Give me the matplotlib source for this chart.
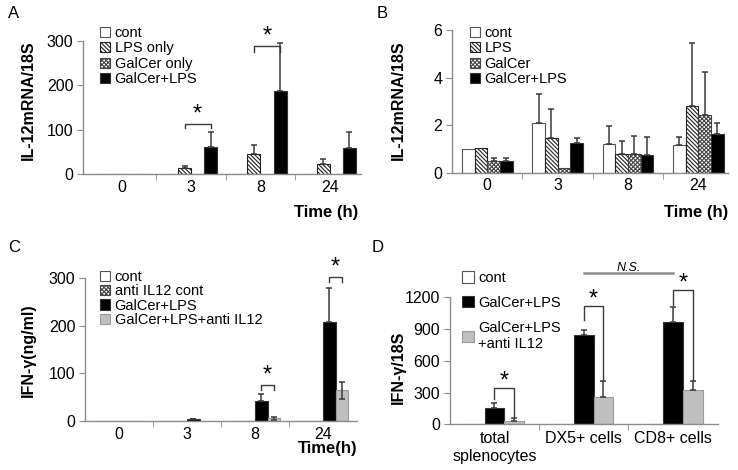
import numpy as np
import matplotlib
matplotlib.use("Agg")
import matplotlib.pyplot as plt
from matplotlib.patches import Patch

plt.rcParams['font.family'] = ['Liberation Sans', 'DejaVu Sans']
plt.rcParams['hatch.linewidth'] = 0.8

# ---- data ----
times = ['0', '3', '8', '24']

# A : IL-12 mRNA
a_names = ['cont', 'LPS only', 'GalCer only', 'GalCer+LPS']
a_cont = [1.5, 1.0, 0.3, 0.3]
a_lps = [0.5, 13.5, 45, 23]
a_galcer = [0.8, 0.5, 0.5, 0.5]
a_both = [1.5, 62, 187, 60]
a_lps_err = [0, 5, 21, 11]
a_both_err = [0, 32, 107, 34]

# B : IL-12 mRNA
b_names = ['cont', 'LPS', 'GalCer', 'GalCer+LPS']
b_cont = [0.98, 2.07, 1.19, 1.15]
b_lps = [1.02, 1.46, 0.77, 2.80]
b_galcer = [0.50, 0.21, 0.79, 2.41]
b_both = [0.48, 1.26, 0.74, 1.61]
b_cont_err = [0, 1.22, 0.77, 0.34]
b_lps_err = [0, 1.20, 0.55, 2.64]
b_galcer_err = [0.10, 0, 0.75, 1.84]
b_both_err = [0.12, 0.18, 0.77, 0.49]

# C : IFN-g protein
c_names = ['cont', 'anti IL12 cont', 'GalCer+LPS', 'GalCer+LPS+anti IL12']
c_cont = [1, 0, 1, 0]
c_anti_cont = [0, 0, 0, 1]
c_both = [1, 4.2, 42.8, 209]
c_both_anti = [1, 1, 5.6, 65]
c_both_err = [0, 1, 14, 70]
c_both_anti_err = [0, 0, 3, 18]

# D : IFN-g mRNA in cell subsets
d_groups = ['total\nsplenocytes', 'DX5+ cells', 'CD8+ cells']
d_names = ['cont', 'GalCer+LPS', 'GalCer+LPS\n+anti IL12']
d_cont = [5, 5, 5]
d_both = [151, 844, 970]
d_anti = [35, 261, 324]
d_both_err = [47, 47, 142]
d_anti_err = [28, 148, 85]

W, H = 738, 470
fig = plt.figure(figsize=(W / 100, H / 100), dpi=100)


def px_axes(left, right, bottom, top):
    return fig.add_axes([left / W, 1 - bottom / H, (right - left) / W, (bottom - top) / H])


AXC = '#8c8c8c'
ERRC = '#3a3a3a'

STY = {
    'white': dict(color='white', edgecolor='#555555', linewidth=0.8),
    'stripe': dict(color='white', edgecolor='#222222', hatch='\\' * 8, linewidth=0.8),
    'check': dict(color='white', edgecolor='#444444', hatch='x' * 8, linewidth=0.8),
    'black': dict(color='black', edgecolor='#333333', linewidth=0.8),
    'gray': dict(color='#c0c0c0', edgecolor='#9a9a9a', linewidth=0.8),
}


def style_axes(ax, ncat, xlim, ylim, yticks, labels):
    for s in ['top', 'right']:
        ax.spines[s].set_visible(False)
    for s in ['left', 'bottom']:
        ax.spines[s].set_color(AXC)
        ax.spines[s].set_linewidth(1.0)
    ax.set_xlim(*xlim)
    ax.set_ylim(*ylim)
    ax.set_yticks(yticks)
    ax.tick_params(axis='y', length=4, color=AXC, labelsize=11.5, pad=3)
    ax.set_xticks(np.arange(ncat))
    ax.set_xticklabels(labels)
    ax.tick_params(axis='x', which='major', length=0, labelsize=11.5, pad=4)
    ax.set_xticks(np.arange(ncat - 1) + 0.5, minor=True)
    ax.tick_params(axis='x', which='minor', length=4, color=AXC)
    ax.patch.set_alpha(0)


def bars(ax, series, errs, styles, width, sym=None):
    n = len(series)
    x = np.arange(len(series[0]))
    offs = (np.arange(n) - (n - 1) / 2) * width
    for i, (vals, st) in enumerate(zip(series, styles)):
        ax.bar(x + offs[i], vals, width, **STY[st], zorder=2)
        if errs[i] is not None:
            e = np.array(errs[i], dtype=float)
            lower = e if (sym and sym[i]) else np.zeros_like(e)
            m = e > 0
            ax.errorbar((x + offs[i])[m], np.array(vals)[m], yerr=[lower[m], e[m]],
                        fmt='none', ecolor=ERRC, elinewidth=1.1, capsize=2.5,
                        capthick=1.1, zorder=3)
    return offs


def bracket(ax, x1, x2, ytop, y1, y2, star_y, fs=17):
    ax.plot([x1, x1, x2, x2], [y1, ytop, ytop, y2], color=ERRC, lw=1.0,
            clip_on=False, zorder=4)
    ax.text((x1 + x2) / 2, star_y, '*', ha='center', va='center', fontsize=fs,
            clip_on=False)


def legend(ax, names, styles, x, y, spacing=0.1, fs=10.5, size=0.7):
    handles = [Patch(facecolor=STY[s]['color'], edgecolor=STY[s]['edgecolor'],
                     hatch=STY[s].get('hatch'), linewidth=0.8) for s in styles]
    ax.legend(handles, names, loc='upper left', bbox_to_anchor=(x / W, 1 - y / H),
              bbox_transform=fig.transFigure, frameon=False, fontsize=fs,
              handlelength=size, handleheight=size, handletextpad=0.3,
              labelspacing=spacing, borderpad=0, borderaxespad=0)


# ---------------- A ----------------
axA = px_axes(83, 361, 174.3, 40.7)
offA = bars(axA, [a_cont, a_lps, a_galcer, a_both], [None, a_lps_err, None, a_both_err],
            ['white', 'stripe', 'check', 'black'], 0.188)
style_axes(axA, 4, (-0.56, 3.45), (0, 300), [0, 100, 200, 300], times)
bracket(axA, 1 + offA[1], 1 + offA[3], 113, 103, 103, 135)
bracket(axA, 2 + offA[1], 2 + offA[3], 288, 275, 275, 310)
legend(axA, a_names, ['white', 'stripe', 'check', 'black'], 100, 26)

# ---------------- B ----------------
axB = px_axes(452, 728, 172.7, 30)
bars(axB, [b_cont, b_lps, b_galcer, b_both],
     [b_cont_err, b_lps_err, b_galcer_err, b_both_err],
     ['white', 'stripe', 'check', 'black'], 0.18)
style_axes(axB, 4, (-0.5, 3.42), (0, 6), [0, 2, 4, 6], times)
legend(axB, b_names, ['white', 'stripe', 'check', 'black'], 470, 26)

# ---------------- C ----------------
axC = px_axes(85, 357, 421, 278.3)
offC = bars(axC, [c_cont, c_anti_cont, c_both, c_both_anti],
            [None, None, c_both_err, c_both_anti_err],
            ['white', 'check', 'black', 'gray'], 0.184, sym=[0, 0, 0, 1])
style_axes(axC, 4, (-0.5, 3.5), (0, 300), [0, 100, 200, 300], times)
bracket(axC, 2 + offC[2], 2 + offC[3], 76, 65, 65, 96)
bracket(axC, 3 + offC[2], 3 + offC[3], 303, 292, 292, 322)
legend(axC, c_names, ['white', 'check', 'black', 'gray'], 100, 270, spacing=0.02)

# ---------------- D ----------------
axD = px_axes(449.8, 717.8, 424.3, 297.3)
offD = bars(axD, [d_cont, d_both, d_anti], [None, d_both_err, d_anti_err],
            ['gray', 'black', 'gray'], 0.22)
style_axes(axD, 3, (-0.5, 2.5), (0, 1200), [0, 300, 600, 900, 1200], d_groups)
axD.tick_params(axis='x', which='major', pad=5)
bracket(axD, 0 + offD[1], 0 + offD[2], 340, 239, 72, 405)
bracket(axD, 1 + offD[1], 1 + offD[2], 1118, 986, 409, 1178)
bracket(axD, 2 + offD[1], 2 + offD[2], 1269, 1128, 409, 1326)
axD.plot([1, 2], [1427, 1427], color='#8c8c8c', lw=1.8, clip_on=False)
axD.text(1.5, 1474, 'N.S.', ha='center', va='center', fontsize=9, style='italic',
         clip_on=False)
legend(axD, d_names, ['white', 'black', 'gray'], 462, 271, spacing=0.75, size=0.8)

# ---------------- labels ----------------
lab = dict(fontsize=11.5, fontweight='bold', ha='center', va='center')
fig.text(28 / W, 1 - 100 / H, 'IL-12mRNA/18S', rotation=90, **lab)
fig.text(398 / W, 1 - 100 / H, 'IL-12mRNA/18S', rotation=90, **lab)
fig.text(28 / W, 1 - 350 / H, 'IFN-γ(ng/ml)', rotation=90, **lab)
fig.text(398 / W, 1 - 367 / H, 'IFN-γ/18S', rotation=90, **lab)

tl = dict(fontsize=12, fontweight='bold', ha='right', va='center')
fig.text(358 / W, 1 - 212 / H, 'Time (h)', **tl)
fig.text(728 / W, 1 - 212 / H, 'Time (h)', **tl)
fig.text(358 / W, 1 - 448 / H, 'Time(h)', **tl)

pl = dict(fontsize=12, ha='left', va='center')
fig.text(8 / W, 1 - 14 / H, 'A', **pl)
fig.text(377 / W, 1 - 14 / H, 'B', **pl)
fig.text(8 / W, 1 - 248 / H, 'C', **pl)
fig.text(372 / W, 1 - 248 / H, 'D', **pl)

fig.savefig('out.png', dpi=100)
